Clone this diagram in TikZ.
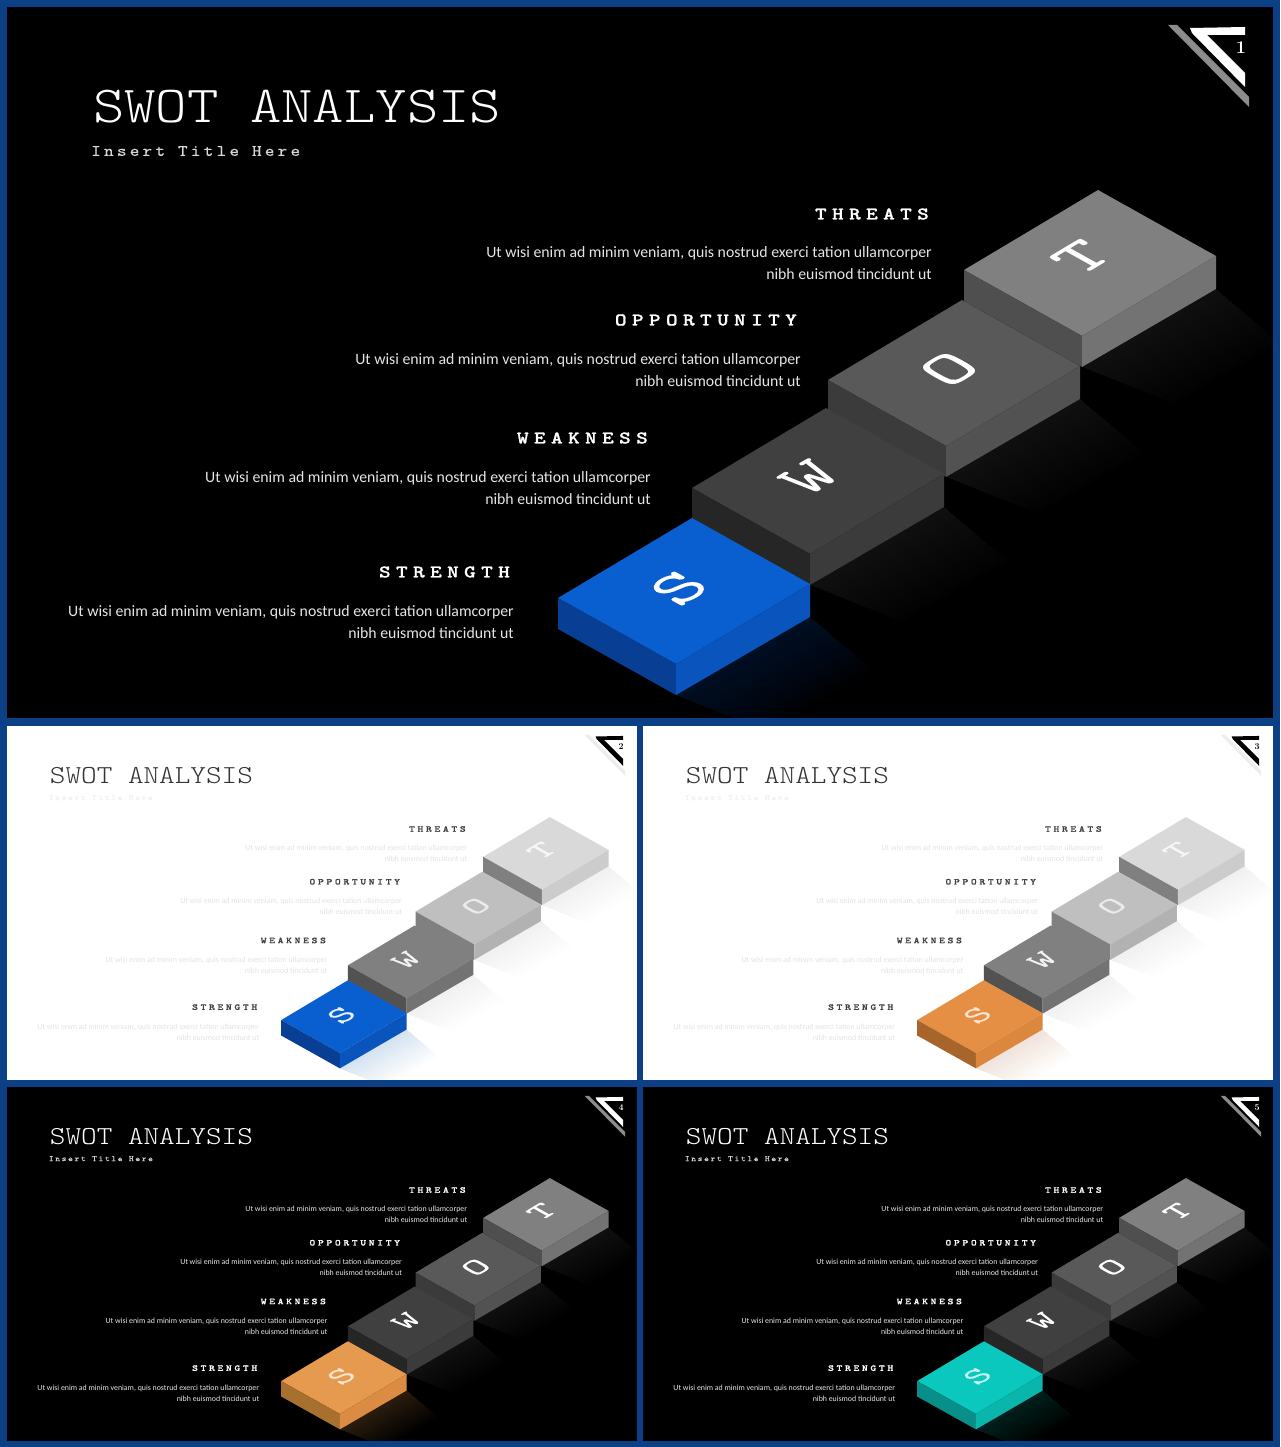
\documentclass[tikz,border=0pt]{standalone}
\usepackage{fontspec}
\newfontfamily\bodyfont{Carlito}
\newfontface\titlefont{lmmonolt10-regular}[Extension=.otf,FakeStretch=1.15]
\newfontface\subfont{lmmono10-regular}[Extension=.otf,FakeStretch=1.15,LetterSpace=20,FakeBold=0.3]
\newfontface\headfont{lmmonolt10-bold}[Extension=.otf,FakeStretch=1.25,LetterSpace=30,FakeBold=1]
\newfontface\letterfont{lmmono10-regular}[Extension=.otf,FakeStretch=1.25,FakeBold=0.1]

\definecolor{framecol}{HTML}{0B3F86}

\newcommand{\darktheme}{%
  \colorlet{slidebg}{black}\colorlet{titlecol}{white}\colorlet{subcol}{black!15!white}
  \colorlet{headcol}{white}\colorlet{bodycol}{black!10!white}
  \colorlet{logomain}{white}\colorlet{logoline}{black!45!white}
  \colorlet{shadowcol}{white}\def\shadowop{0.008}\def\glowop{0.016}
  \colorlet{wtop}{black!75!white}\colorlet{wleft}{black!85!white}\colorlet{wright}{black!77!white}\colorlet{wtext}{white}
  \colorlet{otop}{black!65!white}\colorlet{oleft}{black!77!white}\colorlet{oright}{black!68!white}\colorlet{otext}{white}
  \colorlet{ttop}{black!50!white}\colorlet{tleft}{black!69!white}\colorlet{tright}{black!55!white}\colorlet{ttext}{white}}
\newcommand{\lighttheme}{%
  \colorlet{slidebg}{white}\colorlet{titlecol}{black!80!white}\colorlet{subcol}{black!6!white}
  \colorlet{headcol}{black!75!white}\colorlet{bodycol}{black!11!white}
  \colorlet{logomain}{black}\colorlet{logoline}{black!7!white}
  \colorlet{shadowcol}{black}\def\shadowop{0.004}\def\glowop{0.012}
  \colorlet{wtop}{black!50!white}\colorlet{wleft}{black!68!white}\colorlet{wright}{black!55!white}\colorlet{wtext}{black!5!white}
  \colorlet{otop}{black!25!white}\colorlet{oleft}{black!50!white}\colorlet{oright}{black!30!white}\colorlet{otext}{black!8!white}
  \colorlet{ttop}{black!15!white}\colorlet{tleft}{black!50!white}\colorlet{tright}{black!20!white}\colorlet{ttext}{black!3!white}}
\newcommand{\accentset}[4]{%
  \definecolor{stop}{HTML}{#1}\definecolor{sleft}{HTML}{#2}\definecolor{sright}{HTML}{#3}\definecolor{stext}{HTML}{#4}}

% one block: #1,#2 back corner, #3 name of colour set, #4 letter, #5,#6 letter position
\newcommand{\swotblock}[6]{%
  \fill[#3top] (#1,#2) -- ({#1+118},{#2+66}) -- ({#1-16},{#2+146}) -- ({#1-134},{#2+80}) -- cycle;
  \fill[#3left] ({#1-134},{#2+80}) -- ({#1-16},{#2+146}) -- ({#1-16},{#2+177}) -- ({#1-134},{#2+111}) -- cycle;
  \fill[#3right] ({#1+118},{#2+66}) -- ({#1-16},{#2+146}) -- ({#1-16},{#2+177}) -- ({#1+118},{#2+99}) -- cycle;
  \node[bigletter,text=#3text] (letter#4) at (#5,#6) {#4};}

% soft shadow on the lower right of a block
\newcommand{\swotshadow}[4]{%
  \foreach \k in {1,...,14}
    \fill[#3,fill opacity=#4] ({#1+118},{#2+99}) -- ({#1-16},{#2+177}) -- ({#1-16+6.5*\k},{#2+177+2.6*\k}) -- ({#1+118+4.5*\k},{#2+99+3.8*\k}) -- cycle;}

% one slide: #1,#2 top left corner, #3 scale, #4 number
\newcommand{\swotslide}[4]{%
  \begin{scope}[shift={(#1,#2)},scale=#3,shift={(-7,-7)},every node/.append style={transform shape}]
    \fill[slidebg] (7,7) rectangle (1273,718);
    \begin{scope}
      \clip (7,7) rectangle (1273,718);
      \swotshadow{1098}{190}{shadowcol}{\shadowop}
      \swotshadow{962}{300}{shadowcol}{\shadowop}
      \swotshadow{826}{408}{shadowcol}{\shadowop}
      \swotshadow{692}{518}{stop}{\glowop}
    \end{scope}
    \swotblock{1098}{190}{t}{T}{1081}{257}
    \swotblock{962}{300}{o}{O}{949}{369}
    \swotblock{826}{408}{w}{W}{809}{477}
    \swotblock{692}{518}{s}{S}{679}{588}
    \node[titletext] (title) at (93,107) {SWOT ANALYSIS};
    \node[subtext] (subtitle) at (91,151) {Insert Title Here};
    \node[headtext] (threats) at (929,214) {THREATS};
    \node[bodytext] (threatsbody) at (932,263) {Ut wisi enim ad minim veniam, quis nostrud exerci tation ullamcorper\\nibh euismod tincidunt ut};
    \node[headtext] (opportunity) at (797,320) {OPPORTUNITY};
    \node[bodytext] (opportunitybody) at (801,370) {Ut wisi enim ad minim veniam, quis nostrud exerci tation ullamcorper\\nibh euismod tincidunt ut};
    \node[headtext] (weakness) at (648,438) {WEAKNESS};
    \node[bodytext] (weaknessbody) at (651,488) {Ut wisi enim ad minim veniam, quis nostrud exerci tation ullamcorper\\nibh euismod tincidunt ut};
    \node[headtext] (strength) at (510,572) {STRENGTH};
    \node[bodytext] (strengthbody) at (514,622) {Ut wisi enim ad minim veniam, quis nostrud exerci tation ullamcorper\\nibh euismod tincidunt ut};
    \fill[logoline] (1168,25) -- (1177,25) -- (1249,97) -- (1249,107) -- cycle;  %logo
    \fill[logomain] (1190,28) -- (1245,27) -- (1245,35) -- (1207,35) -- (1245,73) -- (1245,87) -- (1192,33) -- cycle;
    \node[numtext] (number) at (1241,48) {#4};
  \end{scope}}

\tikzset{
  titletext/.style={anchor=west,inner sep=0pt,text=titlecol,font=\titlefont\fontsize{52}{54}\selectfont},
  subtext/.style={anchor=west,inner sep=0pt,text=subcol,font=\subfont\fontsize{16}{18}\selectfont},
  headtext/.style={anchor=east,inner sep=0pt,text=headcol,font=\headfont\fontsize{17.8}{20}\selectfont},
  bodytext/.style={anchor=east,inner sep=0pt,align=right,text=bodycol,font=\bodyfont\fontsize{15.8}{22}\selectfont},
  numtext/.style={inner sep=0pt,text=logomain,font=\bfseries\fontsize{18}{18}\selectfont},
  bigletter/.style={inner sep=0pt,cm={0.859,0.513,-0.874,0.489,(0,0)},font=\letterfont\fontsize{62}{62}\selectfont},
}

\begin{document}
\begin{tikzpicture}[x=1pt,y=-1pt]
  \useasboundingbox (0,0) rectangle (1280,1447);
  \fill[framecol] (0,0) rectangle (1280,1447);
  \darktheme\accentset{0A5FD0}{083F94}{0A55BD}{FFFFFF}
  \swotslide{7}{7}{1}{1}
  \lighttheme\accentset{0A5FD0}{083F94}{0A55BD}{E8F1FF}
  \swotslide{7}{726}{0.4976}{2}
  \lighttheme\accentset{E58F45}{A8652B}{DB873E}{FCE6CF}
  \swotslide{643}{726}{0.4976}{3}
  \darktheme\accentset{E59A50}{A8702F}{DB8C42}{FCE6CF}
  \swotslide{7}{1087}{0.4976}{4}
  \darktheme\accentset{0AC8BE}{088F8A}{0AB5AC}{C9F6F2}
  \swotslide{643}{1087}{0.4976}{5}
\end{tikzpicture}
\end{document}
